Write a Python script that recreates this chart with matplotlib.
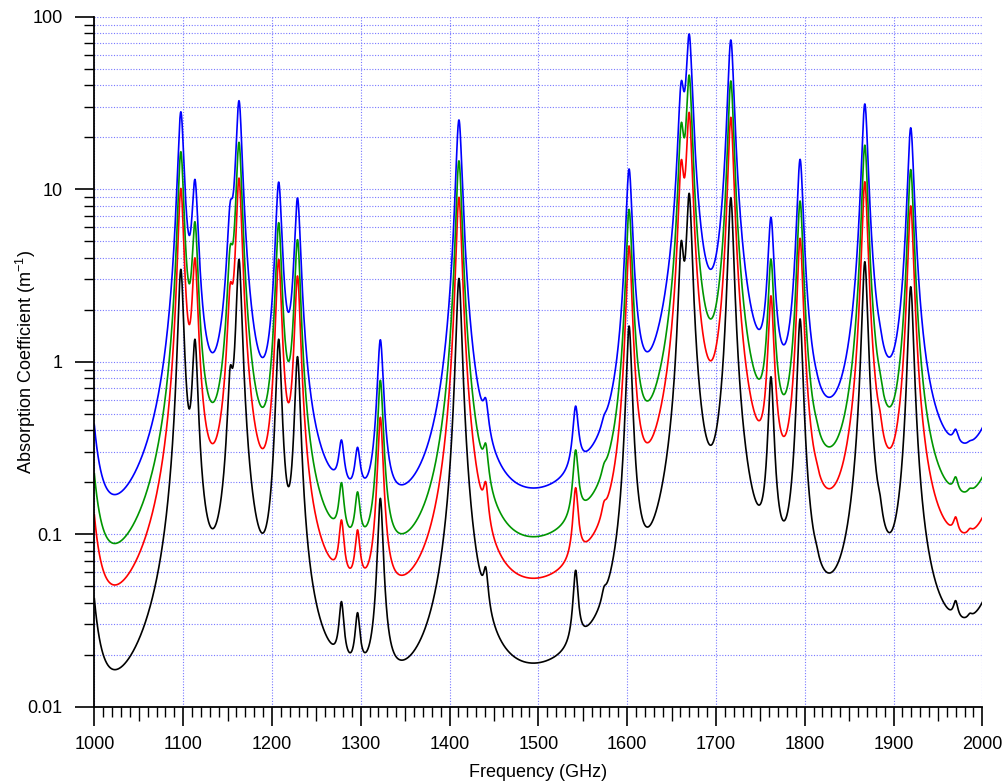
import numpy as np
import matplotlib
matplotlib.use("Agg")
import matplotlib.pyplot as plt
from matplotlib.ticker import FixedLocator, LogLocator, NullFormatter, FuncFormatter

plt.rcParams['font.family'] = ['Liberation Sans', 'DejaVu Sans']
plt.rcParams['mathtext.default'] = 'regular'

# water lines inside the band (GHz)
line_freq = [1097.4, 1113.3, 1153.1, 1162.9, 1207.6, 1228.8, 1278.3, 1296.4, 1310.0, 1322.1,
             1410.6, 1440.8, 1542.0, 1574.0, 1602.2, 1661.0, 1669.9, 1716.8, 1762.0, 1794.8,
             1813.0, 1867.7, 1884.5, 1919.4, 1970.0, 1986.0]

# absorption at each line centre (1/m), one list per vapour density
peak_blue = [28.1, 11.4, 8.5, 32.6, 11.0, 8.9, 0.352, 0.319, 0.211, 1.34,
             25.2, 0.614, 0.553, 0.49, 13.1, 42.4, 79.4, 73.3, 6.87, 14.9,
             0.895, 31.2, 1.67, 22.7, 0.406, 0.348]
peak_green = [16.5, 6.48, 4.75, 18.7, 6.4, 5.1, 0.199, 0.176, 0.113, 0.78,
              14.6, 0.336, 0.308, 0.258, 7.64, 24.3, 45.9, 42.4, 3.94, 8.54,
              0.471, 18.0, 0.895, 13.0, 0.215, 0.1845]
peak_red = [10.1, 4.0, 2.86, 11.6, 3.92, 3.14, 0.121, 0.106, 0.066, 0.476,
            8.97, 0.201, 0.186, 0.155, 4.69, 14.8, 27.9, 26.1, 2.41, 5.19,
            0.269, 11.05, 0.53, 8.0, 0.126, 0.108]
peak_black = [3.43, 1.35, 0.945, 3.92, 1.35, 1.07, 0.0407, 0.0351, 0.0218, 0.1614,
              3.04, 0.0645, 0.0618, 0.0497, 1.61, 5.03, 9.47, 8.93, 0.818, 1.77,
              0.0886, 3.8, 0.174, 2.72, 0.0412, 0.0348]

# strong lines just outside the band (GHz) and their strengths
edge_freq = [988.9, 2040.5]
edge_blue = [4.0, 33.0]
edge_green = [2.35, 19.0]
edge_red = [1.45, 12.0]
edge_black = [0.5, 4.1]

# pressure-broadened half widths (GHz) and continuum level (1/m at 1 THz)
width_blue, width_green, width_red, width_black = 3.35, 3.15, 3.04, 2.96
cont_blue, cont_green, cont_red, cont_black = 0.025, 0.0135, 0.0078, 0.0025


def spectrum(f, peaks, edge_amp, width, cont):
    centres = np.array(line_freq)
    target = np.array(peaks)

    def shape(x, f0):
        return width ** 2 / ((x - f0) ** 2 + width ** 2)

    def background(x):
        b = cont * (x / 1000.0) ** 2
        for a, f0 in zip(edge_amp, edge_freq):
            b = b + a * shape(x, f0)
        return b

    # line strengths that give the listed value at every line centre
    m = shape(centres[:, None], centres[None, :])
    b = background(centres)
    amp = target.copy()
    for _ in range(600):
        amp = amp * target / (m @ amp + b)
    return background(f) + shape(f[:, None], centres[None, :]) @ amp


freq = np.linspace(1000, 2000, 5001)

fig = plt.figure(figsize=(10.08, 7.84), dpi=100)
ax = fig.add_axes([0.0936, 0.0986, 0.8809, 0.8801])

ax.plot(freq, spectrum(freq, peak_black, edge_black, width_black, cont_black), color='black', lw=1.2)
ax.plot(freq, spectrum(freq, peak_red, edge_red, width_red, cont_red), color='#ff0000', lw=1.2)
ax.plot(freq, spectrum(freq, peak_green, edge_green, width_green, cont_green), color='#009600', lw=1.2)
ax.plot(freq, spectrum(freq, peak_blue, edge_blue, width_blue, cont_blue), color='#0000ff', lw=1.2)

ax.set_yscale('log')
ax.set_xlim(1000, 2000)
ax.set_ylim(0.01, 100)

ax.yaxis.set_major_locator(LogLocator(base=10, numticks=10))
ax.yaxis.set_minor_locator(LogLocator(base=10, subs=np.arange(2, 10), numticks=20))
ax.yaxis.set_major_formatter(FuncFormatter(lambda v, p: '%g' % v))
ax.yaxis.set_minor_formatter(NullFormatter())
ax.xaxis.set_major_locator(FixedLocator(np.arange(1000, 2001, 100)))
ax.xaxis.set_minor_locator(FixedLocator([v for v in range(1000, 2001, 10) if v % 50]))

grid_style = dict(color='#7878ff', lw=0.8, ls=(0, (1, 1.5)))
ax.grid(True, which='major', axis='both', **grid_style)
ax.grid(True, which='minor', axis='y', **grid_style)

ax.tick_params(axis='both', which='major', direction='out', length=14, width=1.2, labelsize=13, color='black')
ax.tick_params(axis='both', which='minor', direction='out', length=7, width=1.0)
ax.tick_params(axis='x', which='major', pad=7)
ax.tick_params(axis='y', which='major', pad=9)

# half-hundred ticks are drawn a little longer
mid = ax.secondary_xaxis('bottom')
mid.set_xticks(np.arange(1050, 2000, 100))
mid.tick_params(direction='out', length=10, width=1.0, labelbottom=False)
mid.spines['bottom'].set_visible(False)

for side in ['top', 'right']:
    ax.spines[side].set_visible(False)
for side in ['left', 'bottom']:
    ax.spines[side].set_linewidth(1.3)

ax.set_xlabel('Frequency (GHz)', fontsize=13, labelpad=8)
ax.set_ylabel('Absorption Coefficient (m$^{-1}$)', fontsize=13)
ax.yaxis.set_label_coords(-0.0634, 0.5)

fig.savefig('out.png', dpi=100)
